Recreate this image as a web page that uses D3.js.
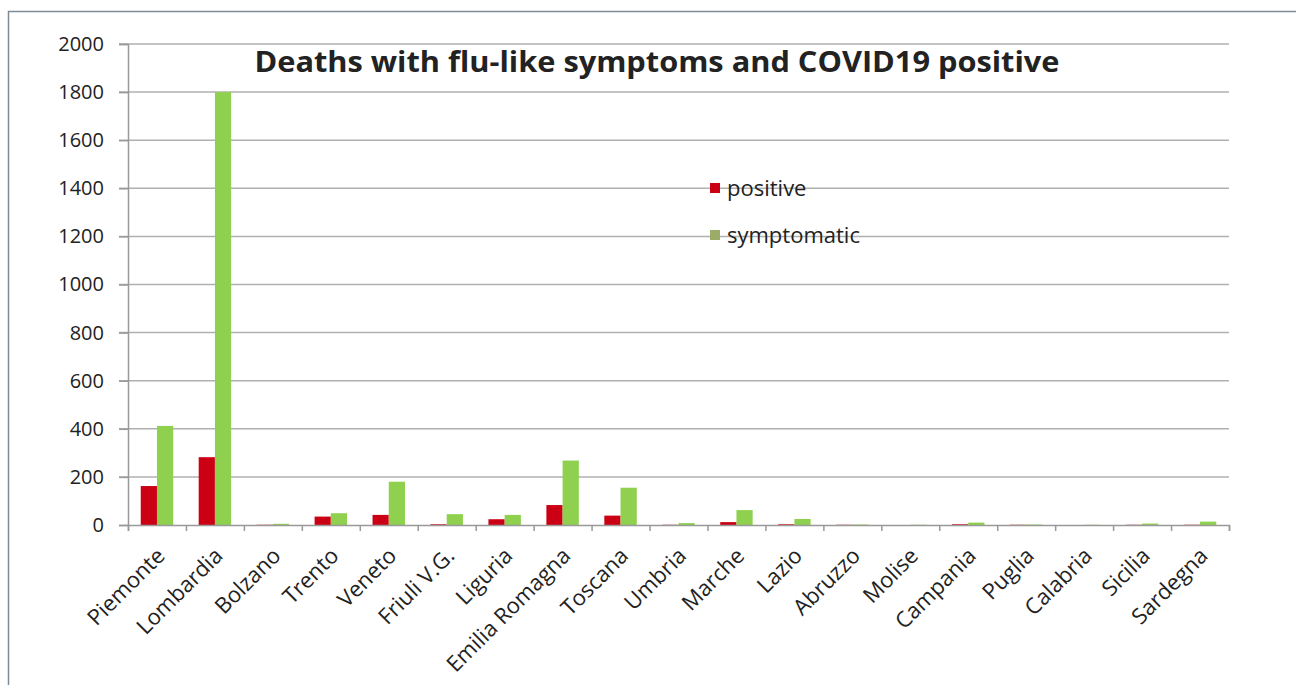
<!DOCTYPE html>
<html>
<head>
<meta charset="utf-8">
<script src="https://d3js.org/d3.v7.min.js"></script>
<style>
  body { margin: 0; background: #fff; }
  text { font-family: "Open Sans", Lato, sans-serif; fill: #222; }
</style>
</head>
<body>
<script>
// chart data
const regions = ["Piemonte", "Lombardia", "Bolzano", "Trento", "Veneto", "Friuli V.G.", "Liguria",
  "Emilia Romagna", "Toscana", "Umbria", "Marche", "Lazio", "Abruzzo", "Molise", "Campania",
  "Puglia", "Calabria", "Sicilia", "Sardegna"];
const positive = [162, 282, 1, 35, 42, 3, 24, 83, 39, 1, 12, 3, 1, 0, 3, 1, 0, 1, 1];
const symptomatic = [412, 1800, 5, 49, 180, 45, 42, 268, 155, 8, 62, 25, 2, 1, 10, 2, 1, 6, 14];
const yTicks = [0, 200, 400, 600, 800, 1000, 1200, 1400, 1600, 1800, 2000];
const seriesNames = ["positive", "symptomatic"];

const W = 1296, H = 685;
const plotLeft = 128, plotRight = 1229, plotTop = 44, plotBottom = 525;

const svg = d3.select("body").append("svg")
  .attr("width", W).attr("height", H);

// outer frame
svg.append("rect")
  .attr("x", 8.5).attr("y", 11.5)
  .attr("width", W + 20).attr("height", H + 20)
  .attr("fill", "none").attr("stroke", "#7d8c96").attr("stroke-width", 1.5);

const y = d3.scaleLinear().domain([0, 2000]).range([plotBottom, plotTop]);
const x = d3.scaleBand().domain(regions).range([plotLeft, plotRight])
  .paddingInner(0.44).paddingOuter(0.22);
const xs = d3.scaleBand().domain(seriesNames).range([0, x.bandwidth()]);
const color = d3.scaleOrdinal().domain(seriesNames).range(["#cc0014", "#8fd14f"]);
const legendColor = d3.scaleOrdinal().domain(seriesNames).range(["#cc0014", "#9bab68"]);

// gridlines
svg.append("g").selectAll("line")
  .data(yTicks.filter(d => d > 0))
  .join("line")
  .attr("x1", plotLeft - 9).attr("x2", plotRight)
  .attr("y1", d => y(d)).attr("y2", d => y(d))
  .attr("stroke", "#b0b0b0").attr("stroke-width", 1.5);

// y axis
const yAxis = svg.append("g")
  .attr("transform", `translate(${plotLeft},0)`)
  .call(d3.axisLeft(y).tickValues(yTicks).tickFormat(d3.format("d")).tickSize(9).tickPadding(15));
yAxis.select(".domain").attr("stroke", "#999").attr("stroke-width", 1.5);
yAxis.selectAll(".tick line").attr("stroke", "#999").attr("stroke-width", 1.5);
yAxis.selectAll(".tick text").style("font-size", "20px").attr("fill", "#222")
  .style("font-family", "'Open Sans', sans-serif");

// bars
const rows = regions.map((r, i) => ({ region: r, positive: positive[i], symptomatic: symptomatic[i] }));
svg.append("g").selectAll("g")
  .data(rows)
  .join("g")
  .attr("transform", d => `translate(${x(d.region)},0)`)
  .selectAll("rect")
  .data(d => seriesNames.map(k => ({ key: k, value: d[k] })))
  .join("rect")
  .attr("x", d => xs(d.key))
  .attr("width", xs.bandwidth())
  .attr("y", d => y(d.value))
  .attr("height", d => plotBottom - y(d.value))
  .attr("fill", d => color(d.key));

// x axis with boundary ticks
const xb = d3.scaleLinear().domain([0, regions.length]).range([plotLeft, plotRight]);
const xAxis = svg.append("g")
  .attr("transform", `translate(0,${plotBottom})`)
  .call(d3.axisBottom(xb).tickValues(d3.range(regions.length + 1)).tickSize(6).tickFormat(""));
xAxis.select(".domain").attr("stroke", "#999").attr("stroke-width", 1.5);
xAxis.selectAll(".tick line").attr("stroke", "#999").attr("stroke-width", 1.5);

// category labels
svg.append("g").selectAll("text")
  .data(regions)
  .join("text")
  .attr("transform", d => `translate(${x(d) + x.bandwidth() / 2 - 2},${plotBottom + 21}) rotate(-45)`)
  .attr("text-anchor", "end")
  .attr("dy", "0.72em")
  .style("font-size", "22px")
  .attr("fill", "#2a2a2a")
  .text(d => d);

// title
svg.append("text")
  .attr("x", 657).attr("y", 72)
  .attr("text-anchor", "middle")
  .style("font-size", "28px").style("font-weight", "bold")
  .attr("fill", "#111")
  .attr("textLength", 805).attr("lengthAdjust", "spacingAndGlyphs")
  .text("Deaths with flu-like symptoms and COVID19 positive");

// legend
const lg = svg.append("g").selectAll("g")
  .data(seriesNames)
  .join("g")
  .attr("transform", (d, i) => `translate(710,${188 + i * 47})`);
lg.append("rect")
  .attr("x", 0).attr("y", -5).attr("width", 10).attr("height", 10)
  .attr("fill", d => legendColor(d));
lg.append("text")
  .attr("x", 17).attr("dy", "0.35em")
  .style("font-size", "22px")
  .text(d => d);
</script>
</body>
</html>
